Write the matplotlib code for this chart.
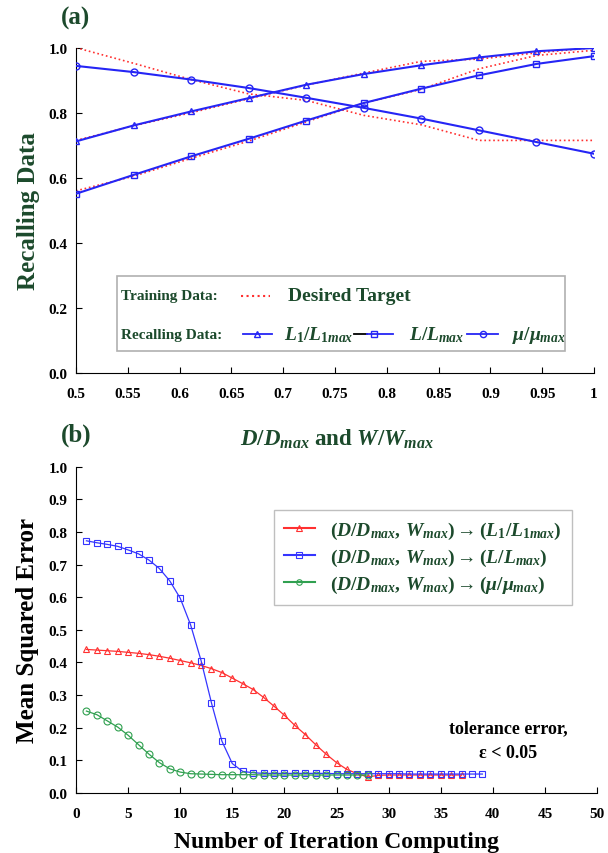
import numpy as np
import matplotlib
matplotlib.use("Agg")
import matplotlib.pyplot as plt
from matplotlib.patches import Rectangle
from matplotlib.lines import Line2D

plt.rcParams["font.family"] = ["Liberation Serif", "DejaVu Serif"]
plt.rcParams["font.weight"] = "bold"
plt.rcParams["axes.labelweight"] = "bold"
plt.rcParams["mathtext.fontset"] = "custom"
plt.rcParams["mathtext.it"] = "Liberation Serif:italic:bold"
plt.rcParams["mathtext.rm"] = "Liberation Serif:bold"
plt.rcParams["mathtext.bf"] = "Liberation Serif:bold"

GREEN_TXT = "#1c4a2c"

# ---- panel (a) data ----
ratio = [0.5, 0.5556, 0.6111, 0.6667, 0.7222, 0.7778, 0.8333, 0.8889, 0.9444, 1.0]
l1_recall = [0.712, 0.761, 0.804, 0.845, 0.886, 0.919, 0.946, 0.970, 0.989, 0.999]
l_recall = [0.551, 0.609, 0.666, 0.720, 0.776, 0.830, 0.874, 0.915, 0.950, 0.974]
mu_recall = [0.944, 0.925, 0.902, 0.876, 0.846, 0.815, 0.782, 0.746, 0.710, 0.674]
l1_target = [0.715, 0.760, 0.800, 0.843, 0.885, 0.922, 0.958, 0.965, 0.984, 1.000]
l_target = [0.560, 0.605, 0.660, 0.713, 0.772, 0.830, 0.872, 0.935, 0.976, 0.992]
mu_target = [1.000, 0.952, 0.902, 0.858, 0.838, 0.792, 0.763, 0.715, 0.715, 0.715]

# ---- panel (b) data ----
it_l1 = list(range(1, 38))
mse_l1 = [0.440, 0.438, 0.436, 0.434, 0.431, 0.428, 0.424, 0.419, 0.413, 0.406,
          0.399, 0.391, 0.381, 0.369, 0.352, 0.335, 0.317, 0.293, 0.266, 0.238,
          0.207, 0.179, 0.148, 0.119, 0.093, 0.072, 0.059, 0.049, 0.054, 0.055,
          0.055, 0.055, 0.055, 0.055, 0.055, 0.055, 0.055]
it_l = list(range(1, 40))
mse_l = [0.773, 0.767, 0.762, 0.756, 0.745, 0.733, 0.714, 0.688, 0.650, 0.597,
         0.515, 0.406, 0.276, 0.159, 0.090, 0.066, 0.062, 0.060, 0.060, 0.060,
         0.060, 0.060, 0.060, 0.060, 0.059, 0.059, 0.059, 0.059, 0.059, 0.059,
         0.059, 0.058, 0.058, 0.058, 0.058, 0.058, 0.058, 0.058, 0.058]
it_mu = list(range(1, 29))
mse_mu = [0.251, 0.240, 0.221, 0.202, 0.177, 0.148, 0.119, 0.093, 0.074, 0.064,
          0.059, 0.058, 0.057, 0.056, 0.056, 0.056, 0.056, 0.055, 0.055, 0.055,
          0.055, 0.055, 0.055, 0.055, 0.055, 0.055, 0.055, 0.055]

fig = plt.figure(figsize=(6.08, 8.54), dpi=100)

# ================= (a) =================
ax1 = fig.add_axes([0.125, 0.562, 0.852, 0.381])
blue = "#2525f5"
for tgt in (l1_target, l_target, mu_target):
    ax1.plot(ratio, tgt, color="#ff3030", ls=":", lw=1.2, zorder=2)
ax1.plot(ratio, l1_recall, color=blue, lw=1.5, marker="^", ms=5, mfc="none", mew=1, zorder=3)
ax1.plot(ratio, l_recall, color=blue, lw=1.5, marker="s", ms=5, mfc="none", mew=1, zorder=3)
ax1.plot(ratio, mu_recall, color=blue, lw=1.5, marker="o", ms=5, mfc="none", mew=1, zorder=3)

ax1.set_xlim(0.5, 1.0)
ax1.set_ylim(0, 1.0)
ax1.set_xticks([0.5, 0.55, 0.6, 0.65, 0.7, 0.75, 0.8, 0.85, 0.9, 0.95, 1.0])
ax1.set_xticklabels(["0.5", "0.55", "0.6", "0.65", "0.7", "0.75", "0.8", "0.85", "0.9", "0.95", "1"])
ax1.set_yticks([0, 0.2, 0.4, 0.6, 0.8, 1.0])
ax1.set_yticklabels(["0.0", "0.2", "0.4", "0.6", "0.8", "1.0"])
ax1.spines["top"].set_visible(False)
ax1.spines["right"].set_visible(False)
ax1.tick_params(direction="in", length=4, labelsize=11, pad=6)
ax1.tick_params(axis="x", pad=10)
ax1.set_ylabel("Recalling Data", fontsize=18, color=GREEN_TXT, labelpad=6)

# manual legend box
ax1.add_patch(Rectangle((0.079, 0.068), 0.865, 0.230, transform=ax1.transAxes,
                        fill=False, ec="#b0b0b0", lw=1.2, zorder=4))
ax1.text(0.087, 0.237, "Training Data:", transform=ax1.transAxes, fontsize=11,
         color=GREEN_TXT, va="center")
ax1.add_line(Line2D([0.319, 0.375], [0.237, 0.237], transform=ax1.transAxes,
                    color="#ff3030", ls=":", lw=1.5))
ax1.text(0.409, 0.237, "Desired Target", transform=ax1.transAxes, fontsize=14,
         color=GREEN_TXT, va="center")
ax1.text(0.087, 0.12, "Recalling Data:", transform=ax1.transAxes, fontsize=11,
         color=GREEN_TXT, va="center")
ax1.add_line(Line2D([0.322, 0.378], [0.12, 0.12], transform=ax1.transAxes, color=blue, lw=1.3))
ax1.add_line(Line2D([0.35], [0.12], transform=ax1.transAxes, color=blue, marker="^",
                    ms=4.5, mfc="none"))
ax1.text(0.402, 0.12, r"$L_1/L_{1max}$", transform=ax1.transAxes, fontsize=14,
         color=GREEN_TXT, va="center")
ax1.add_line(Line2D([0.537, 0.562], [0.12, 0.12], transform=ax1.transAxes, color="black", lw=1.3))
ax1.add_line(Line2D([0.562, 0.612], [0.12, 0.12], transform=ax1.transAxes, color=blue, lw=1.3))
ax1.add_line(Line2D([0.575], [0.12], transform=ax1.transAxes, color=blue, marker="s",
                    ms=4.5, mfc="none"))
ax1.text(0.642, 0.12, r"$L/L_{max}$", transform=ax1.transAxes, fontsize=14,
         color=GREEN_TXT, va="center")
ax1.add_line(Line2D([0.755, 0.815], [0.12, 0.12], transform=ax1.transAxes, color=blue, lw=1.3))
ax1.add_line(Line2D([0.785], [0.12], transform=ax1.transAxes, color=blue, marker="o",
                    ms=4.5, mfc="none"))
ax1.text(0.842, 0.12, r"$\mu/\mu_{max}$", transform=ax1.transAxes, fontsize=14,
         color=GREEN_TXT, va="center")

fig.text(0.125, 0.978, "(a)", fontsize=18, color=GREEN_TXT, ha="center", va="center")
fig.text(0.555, 0.485, r"$D/D_{max}$ and $W/W_{max}$", fontsize=16.5, color=GREEN_TXT,
         ha="center", va="center")
fig.text(0.125, 0.49, "(b)", fontsize=18, color=GREEN_TXT, ha="center", va="center")

# ================= (b) =================
ax2 = fig.add_axes([0.125, 0.0703, 0.857, 0.382])
ax2.plot(it_l1, mse_l1, color="#ff3030", lw=0.9, marker="^", ms=5, mfc="none", mew=0.8,
         label=r"$(D/D_{max},\, W_{max}) \rightarrow (L_1/L_{1max})$")
ax2.plot(it_l, mse_l, color="#3535ff", lw=0.9, marker="s", ms=5, mfc="none", mew=0.8,
         label=r"$(D/D_{max},\, W_{max}) \rightarrow (L/L_{max})$")
ax2.plot(it_mu, mse_mu, color="#30a050", lw=0.9, marker="o", ms=5, mfc="none", mew=0.8,
         label=r"$(D/D_{max},\, W_{max}) \rightarrow (\mu/\mu_{max})$")
ax2.set_xlim(0, 50)
ax2.set_ylim(0, 1.0)
ax2.set_xticks(np.arange(0, 51, 5))
ax2.set_yticks(np.arange(0, 1.01, 0.1))
ax2.set_yticklabels(["%.1f" % v for v in np.arange(0, 1.01, 0.1)])
ax2.spines["top"].set_visible(False)
ax2.spines["right"].set_visible(False)
ax2.tick_params(direction="in", length=4, labelsize=11, pad=6)
ax2.tick_params(axis="x", pad=10)
ax2.set_xlabel("Number of Iteration Computing", fontsize=17, labelpad=8)
ax2.set_ylabel("Mean Squared Error", fontsize=18, labelpad=7)
leg = ax2.legend(loc="upper left", bbox_to_anchor=(0.38, 0.868), fontsize=14,
                 frameon=True, fancybox=False, edgecolor="#b0b0b0", handlelength=1.6,
                 borderpad=0.5, labelspacing=0.32, handletextpad=0.8, markerscale=0.8,
                 borderaxespad=0)
for t in leg.get_texts():
    t.set_color(GREEN_TXT)
for h in leg.get_lines():
    h.set_linewidth(1.5)
ax2.text(0.83, 0.2, "tolerance error,", transform=ax2.transAxes, fontsize=13,
         ha="center", va="center")
ax2.text(0.83, 0.125, "ε < 0.05", transform=ax2.transAxes, fontsize=13,
         ha="center", va="center")

fig.savefig("out.png", dpi=100)
